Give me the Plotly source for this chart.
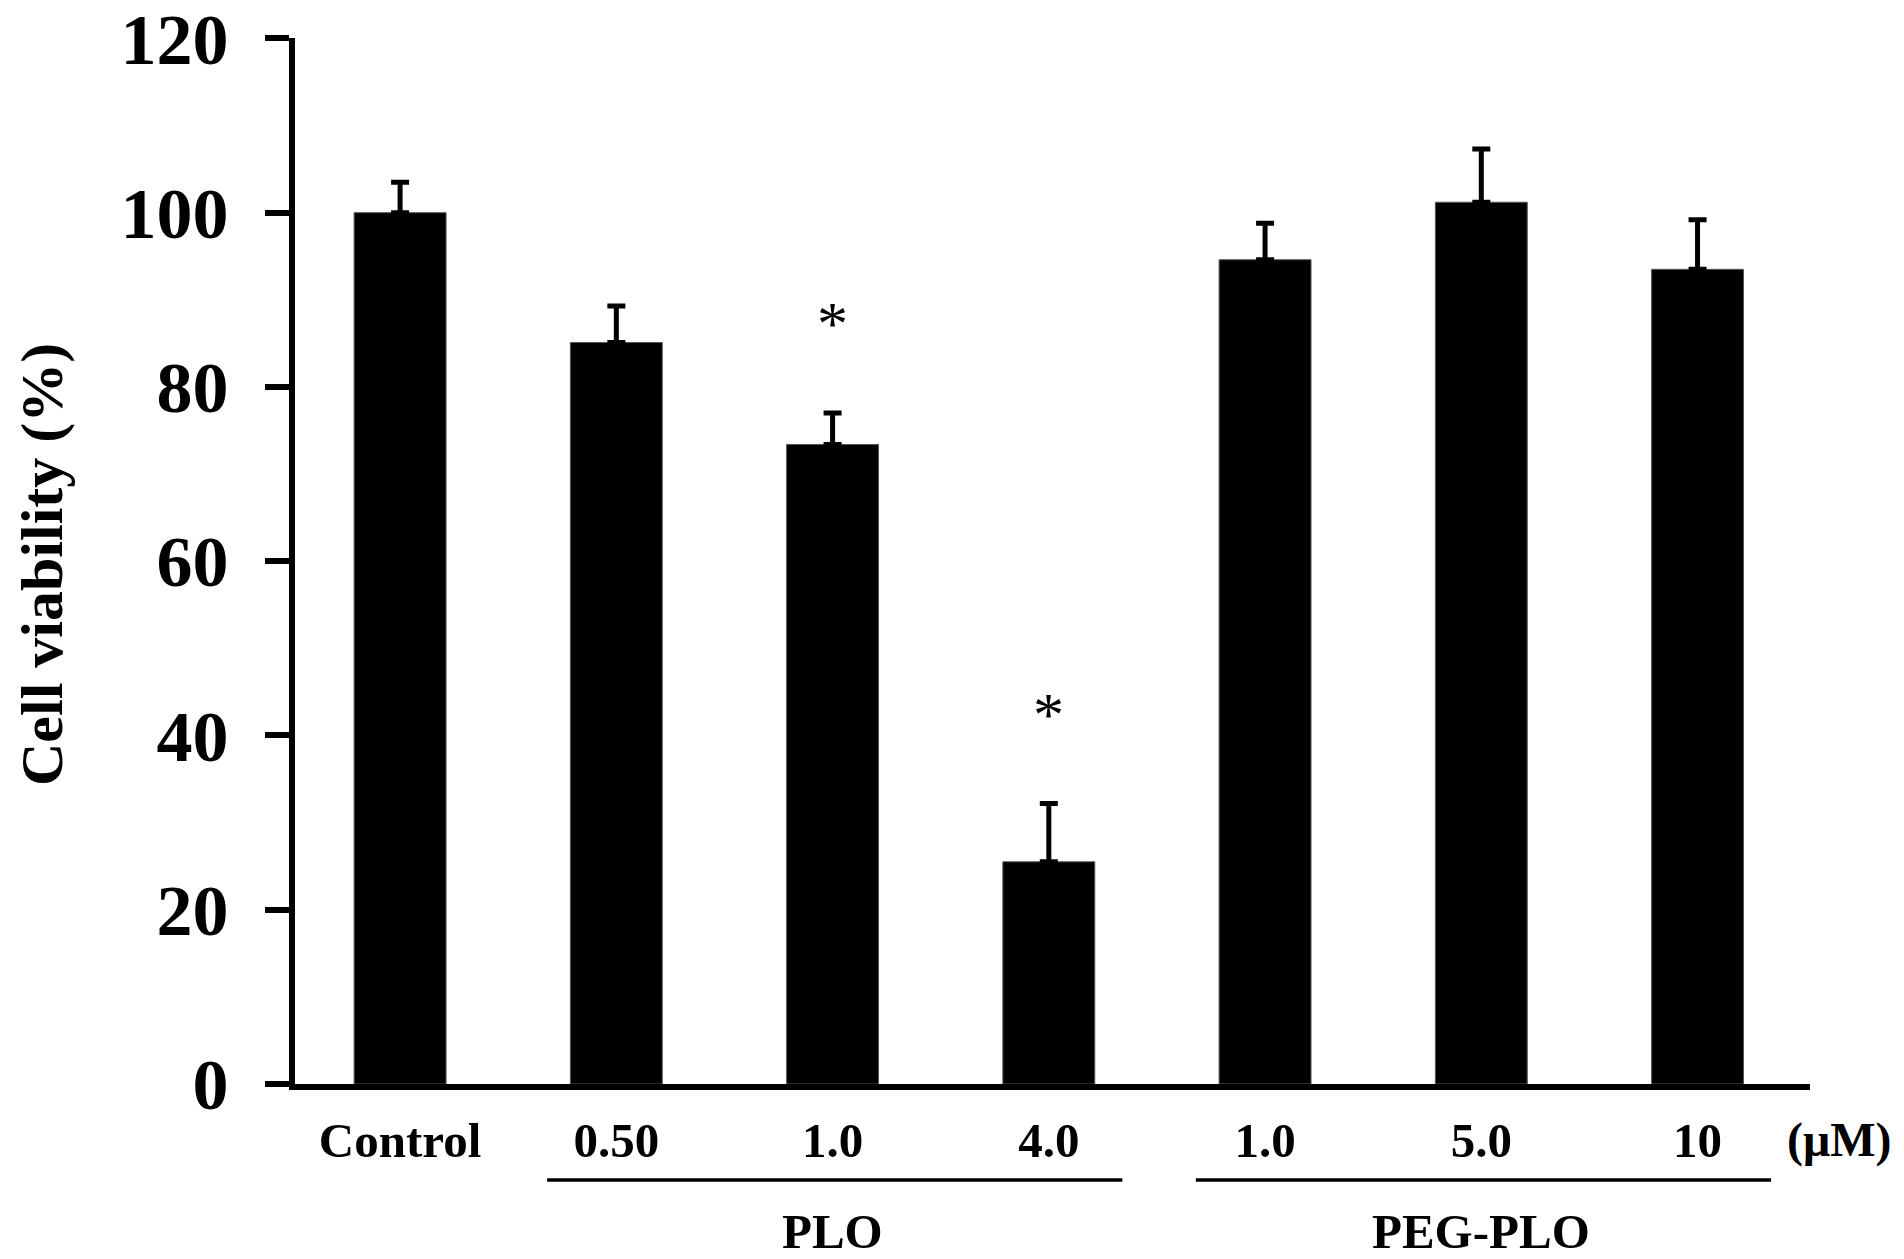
import plotly.graph_objects as go

# ---- data ----
categories = ["Control", "0.50", "1.0", "4.0", "1.0", "5.0", "10"]
viability = [100.0, 85.1, 73.4, 25.5, 94.6, 101.2, 93.5]
sd = [3.5, 4.2, 3.6, 6.7, 4.2, 6.1, 5.7]
significant = [False, False, True, True, False, False, False]
groups = ["PLO", "PEG-PLO"]
group_members = [[1, 2, 3], [4, 5, 6]]
y_ticks = [0, 20, 40, 60, 80, 100, 120]
unit_label = "(μM)"
y_title = "Cell viability (%)"

FONT = "Liberation Serif, Times New Roman, serif"
W, H = 1904, 1259
ML, MR, MT, MB = 295, 94, 38, 175
XR = [-0.486, 6.52]
x = list(range(len(categories)))
plot_w = W - ML - MR


def px_to_paper_x(px):
    return (px - ML) / plot_w


def px_to_paper_y(py):
    return (H - MB - py) / (H - MB - MT)


fig = go.Figure()
fig.add_trace(go.Bar(
    x=x, y=viability, width=0.425,
    marker=dict(color="black", line=dict(color="#555555", width=1)),
    error_y=dict(type="data", array=sd, arrayminus=[0] * len(sd), symmetric=False,
                 color="black", thickness=5, width=9),
    showlegend=False,
))

# significance asterisks
for xi, v, e, s in zip(x, viability, sd, significant):
    if s:
        fig.add_annotation(x=xi, y=v + e + 10.3, xref="x", yref="y", text="*",
                           showarrow=False, yanchor="middle",
                           font=dict(family=FONT, size=62, color="black"))

# group lines and labels
line_y = px_to_paper_y(1180)
label_y = px_to_paper_y(1231)
for name, members in zip(groups, group_members):
    x0 = members[0] - 0.32
    x1 = members[-1] + 0.34
    fig.add_shape(type="line", xref="x", yref="paper", x0=x0, x1=x1, y0=line_y, y1=line_y,
                  line=dict(color="black", width=3.5))
    fig.add_annotation(x=members[len(members) // 2], y=label_y, xref="x", yref="paper",
                       text="<b>%s</b>" % name, showarrow=False, yanchor="middle",
                       font=dict(family=FONT, size=49, color="black"))

fig.add_annotation(x=px_to_paper_x(1839), y=px_to_paper_y(1140), xref="paper", yref="paper",
                   text="<b>%s</b>" % unit_label, showarrow=False, yanchor="middle",
                   xanchor="center",
                   font=dict(family=FONT, size=48, color="black"))

# y axis title
fig.add_annotation(x=px_to_paper_x(42), y=px_to_paper_y(565), xref="paper", yref="paper",
                   text="<b>%s</b>" % y_title, showarrow=False, textangle=-90,
                   xanchor="center", yanchor="middle",
                   font=dict(family=FONT, size=60, color="black"))

fig.update_layout(
    width=W, height=H,
    margin=dict(l=ML, r=MR, t=MT, b=MB, autoexpand=False),
    paper_bgcolor="white", plot_bgcolor="white",
    font=dict(family=FONT, color="black"),
    xaxis=dict(
        range=XR, automargin=False,
        tickmode="array", tickvals=x,
        ticktext=["<b>%s</b>" % c for c in categories],
        tickfont=dict(family=FONT, size=49, color="black"),
        showline=True, linecolor="black", linewidth=6,
        ticks="", showgrid=False, zeroline=False,
        ticklabelstandoff=8,
    ),
    yaxis=dict(
        range=[0, 120.05], automargin=False,
        tickmode="array", tickvals=y_ticks,
        ticktext=["<b>%d</b>" % t for t in y_ticks],
        tickfont=dict(family=FONT, size=72, color="black"),
        showline=True, linecolor="black", linewidth=6,
        ticks="outside", ticklen=24, tickwidth=6, tickcolor="black",
        showgrid=False, zeroline=False,
        ticklabelstandoff=22, ticklabeloverflow="allow",
    ),
)

fig.write_html("out.html", config={"displayModeBar": False},
               post_script="document.body.style.margin='0';document.body.style.overflow='hidden';")
